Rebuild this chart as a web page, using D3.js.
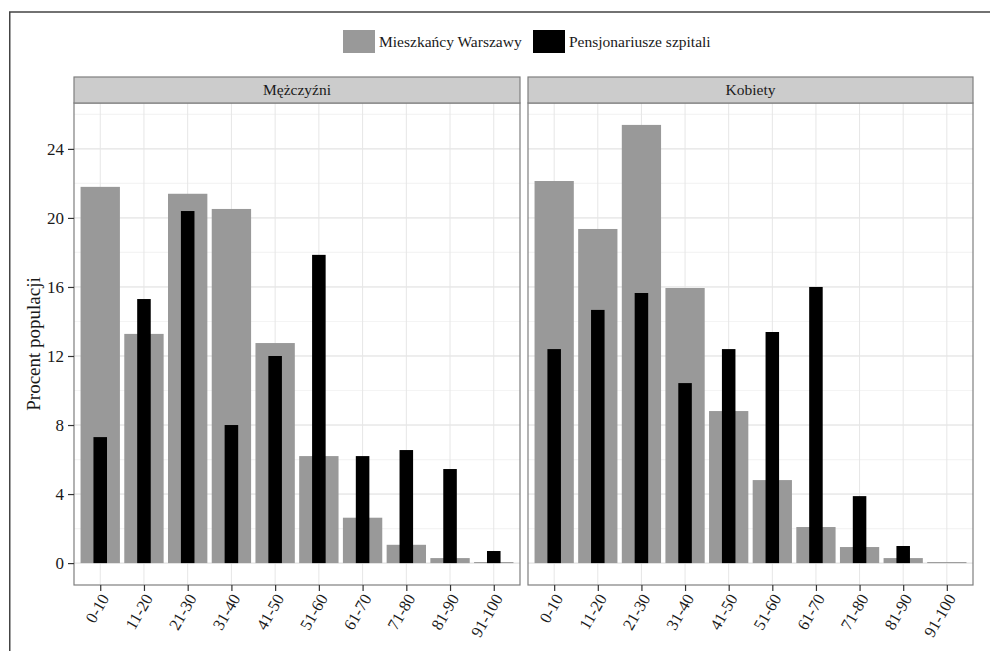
<!DOCTYPE html>
<html>
<head>
	<meta charset="UTF-8">
	<title>Procent populacji</title>
	<style>
html, body {margin:0;padding:0;background:#fff;}
text {font-family: "Liberation Serif", "DejaVu Serif", serif; fill: #1a1a1a;}
	</style>
	<script src="https://cdnjs.cloudflare.com/ajax/libs/d3/7.8.5/d3.min.js"></script>
</head>
<body>
<script>
const ageGroups = ['0-10','11-20','21-30','31-40','41-50','51-60','61-70','71-80','81-90','91-100'];
const panelNames = ['Mężczyźni', 'Kobiety'];
const seriesNames = ['Mieszkańcy Warszawy', 'Pensjonariusze szpitali'];
const warsawMen = [21.8, 13.28, 21.4, 20.52, 12.75, 6.2, 2.63, 1.06, 0.29, 0.06];
const hospitalMen = [7.3, 15.3, 20.4, 8.0, 12.0, 17.86, 6.2, 6.55, 5.45, 0.7];
const warsawWomen = [22.14, 19.36, 25.39, 15.94, 8.81, 4.81, 2.09, 0.93, 0.29, 0.06];
const hospitalWomen = [12.4, 14.67, 15.65, 10.43, 12.4, 13.39, 16.0, 3.88, 0.99, 0];
const yTicks = [0, 4, 8, 12, 16, 20, 24];
const yMinor = [2, 6, 10, 14, 18, 22, 26];

const W = 990, H = 651;
const colors = ['#999999', '#000000'];
const panelData = [
	{name: panelNames[0], series: [warsawMen, hospitalMen], x0: 74, x1: 520},
	{name: panelNames[1], series: [warsawWomen, hospitalWomen], x0: 528, x1: 973}
];
const plotTop = 103, plotBottom = 585, stripH = 26;

const svg = d3.select('body').append('svg').attr('width', W).attr('height', H);
svg.append('rect').attr('x', 0).attr('y', 0).attr('width', W).attr('height', H).attr('fill', '#fff');
// outer frame (runs off right and bottom)
svg.append('rect').attr('x', 9.75).attr('y', 12).attr('width', W + 10).attr('height', H + 10)
	.attr('fill', 'none').attr('stroke', '#444').attr('stroke-width', 1.5);

const maxV = d3.max([warsawMen, hospitalMen, warsawWomen, hospitalWomen].flat());
const pad = maxV * 0.05;
const y = d3.scaleLinear().domain([-pad, maxV + pad]).range([plotBottom, plotTop]);

panelData.forEach((p, pi) => {
	const x = d3.scalePoint().domain(ageGroups).range([p.x0, p.x1]).padding(0.6);
	const step = x.step();
	const g = svg.append('g');

	// grid
	g.selectAll('.minor').data(yMinor.filter(v => y(v) > plotTop)).enter().append('line')
		.attr('x1', p.x0).attr('x2', p.x1).attr('y1', d => y(d)).attr('y2', d => y(d))
		.attr('stroke', '#f4f4f4').attr('stroke-width', 1.2);
	g.selectAll('.majorY').data(yTicks).enter().append('line')
		.attr('x1', p.x0).attr('x2', p.x1).attr('y1', d => y(d)).attr('y2', d => y(d))
		.attr('stroke', '#dcdcdc').attr('stroke-width', 1);
	g.selectAll('.majorX').data(ageGroups).enter().append('line')
		.attr('x1', d => x(d)).attr('x2', d => x(d)).attr('y1', plotTop).attr('y2', plotBottom)
		.attr('stroke', '#e6e6e6').attr('stroke-width', 1);

	// bars: wide grey, narrow black
	const widths = [0.9, 0.31];
	p.series.forEach((vals, si) => {
		g.selectAll('.bar' + si).data(vals).enter().append('rect')
			.attr('x', (d, i) => x(ageGroups[i]) - widths[si] * step / 2)
			.attr('width', widths[si] * step)
			.attr('y', d => y(d))
			.attr('height', d => y(0) - y(d))
			.attr('fill', colors[si]);
	});

	// panel border
	g.append('rect').attr('x', p.x0).attr('y', plotTop).attr('width', p.x1 - p.x0).attr('height', plotBottom - plotTop)
		.attr('fill', 'none').attr('stroke', '#7f7f7f').attr('stroke-width', 1.2);
	// strip
	g.append('rect').attr('x', p.x0).attr('y', plotTop - stripH).attr('width', p.x1 - p.x0).attr('height', stripH)
		.attr('fill', '#cccccc').attr('stroke', '#7f7f7f').attr('stroke-width', 1.2);
	g.append('text').attr('x', (p.x0 + p.x1) / 2).attr('y', plotTop - stripH / 2 + 5)
		.attr('text-anchor', 'middle').style('font-size', '15.5px').text(p.name);

	// x axis
	const xa = g.append('g').attr('transform', `translate(0,${plotBottom})`)
		.call(d3.axisBottom(x).tickSizeOuter(0).tickSize(6).tickPadding(4));
	xa.select('.domain').remove();
	xa.selectAll('.tick line').attr('stroke', '#333').attr('stroke-width', 1.2);
	xa.selectAll('.tick text')
		.attr('text-anchor', 'end').attr('dy', null).attr('y', 0)
		.attr('transform', 'translate(9,13) rotate(-60)')
		.style('font-size', '16.5px').style('font-family', '"Liberation Serif", serif').attr('fill', '#1a1a1a');

	// y axis on first panel only
	if (pi === 0) {
		const ya = g.append('g').attr('transform', `translate(${p.x0},0)`)
			.call(d3.axisLeft(y).tickValues(yTicks).tickSize(6).tickPadding(4).tickSizeOuter(0));
		ya.select('.domain').remove();
		ya.selectAll('.tick line').attr('stroke', '#333').attr('stroke-width', 1.2);
		ya.selectAll('.tick text').style('font-size', '17px')
			.style('font-family', '"Liberation Serif", serif').attr('fill', '#1a1a1a');
	}
});

// y title
svg.append('text').attr('transform', `translate(39.5,${(plotTop + plotBottom) / 2}) rotate(-90)`)
	.attr('text-anchor', 'middle').style('font-size', '19px').text('Procent populacji');

// legend
const legend = svg.append('g').attr('transform', 'translate(343,30)');
const lx = [0, 190];
seriesNames.forEach((s, i) => {
	legend.append('rect').attr('x', lx[i]).attr('y', 0).attr('width', 32).attr('height', 23).attr('fill', colors[i]);
	legend.append('text').attr('x', lx[i] + 36).attr('y', 17).style('font-size', '15.5px').text(s);
});
</script>
</body>
</html>
